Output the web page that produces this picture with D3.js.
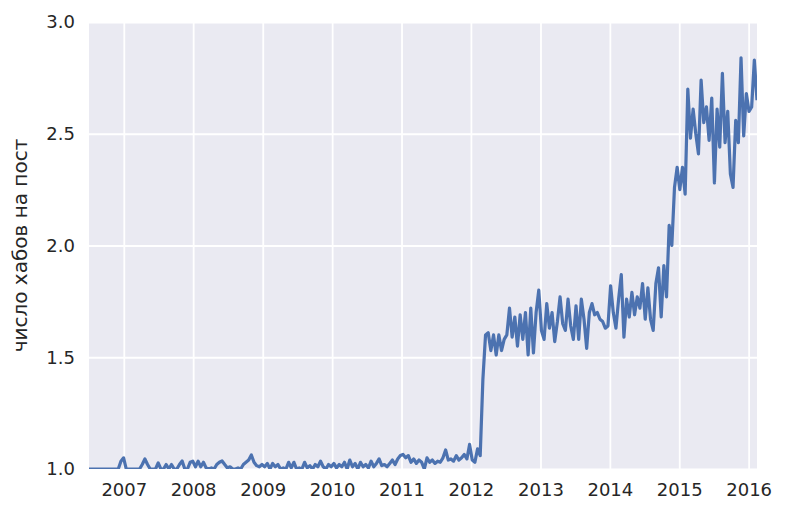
<!DOCTYPE html>
<html>
<head>
<meta charset="utf-8">
<script src="https://cdn.jsdelivr.net/npm/d3@7"></script>
<style>
    body { margin: 0; background: #fff; }
    .tick text { font-family: "DejaVu Sans", sans-serif; font-size: 18px; fill: #262626; }
</style>
</head>
<body>
<div id="chart"></div>
<script>
// values every 2 weeks, starting 2006-07-02
var v2006 = [1, 1, 1, 1, 1, 1, 1, 1, 1, 1, 1, 1, 1.035];
var v2007 = [1.05, 1, 1, 1, 1, 1, 1, 1.02, 1.045, 1.02, 1, 1, 1, 1.027, 1, 1, 1.02, 1, 1.02, 1, 1, 1.02, 1.036, 1, 1, 1.03];
var v2008 = [1.035, 1.01, 1.035, 1.01, 1.03, 1.005, 1, 1.005, 1, 1.02, 1.03, 1.036, 1.02, 1.005, 1.01, 1, 1, 1.005, 1, 1.02, 1.03, 1.04, 1.063, 1.03, 1.015, 1.01];
var v2009 = [1.02, 1.01, 1.025, 1, 1.025, 1.01, 1.02, 1, 1.005, 1, 1.03, 1.005, 1.03, 1, 1.005, 1, 1.03, 1.005, 1.015, 1, 1.02, 1.01, 1.035, 1.01, 1, 1.02];
var v2010 = [1.01, 1.025, 1.005, 1.02, 1.01, 1.03, 1, 1.04, 1.01, 1.025, 1, 1.03, 1.01, 1.02, 1.005, 1.035, 1.01, 1.025, 1.045, 1.015, 1.02, 1.01, 1.025, 1.04, 1.02, 1.045];
var v2011 = [1.06, 1.065, 1.05, 1.06, 1.03, 1.045, 1.025, 1.04, 1.03, 1, 1.05, 1.03, 1.04, 1.025, 1.035, 1.03, 1.05, 1.085, 1.04, 1.045, 1.035, 1.06, 1.04, 1.05, 1.065, 1.045];
var v2012 = [1.11, 1.04, 1.03, 1.09, 1.06, 1.40, 1.60, 1.61, 1.53, 1.60, 1.51, 1.60, 1.53, 1.58, 1.60, 1.72, 1.59, 1.68, 1.55, 1.69, 1.58, 1.70, 1.51, 1.72, 1.52, 1.70];
var v2013 = [1.80, 1.62, 1.58, 1.74, 1.63, 1.70, 1.57, 1.66, 1.77, 1.65, 1.62, 1.76, 1.64, 1.58, 1.73, 1.58, 1.76, 1.67, 1.54, 1.70, 1.74, 1.69, 1.70, 1.67, 1.66, 1.63];
var v2014 = [1.64, 1.82, 1.70, 1.63, 1.76, 1.87, 1.59, 1.76, 1.68, 1.79, 1.69, 1.77, 1.72, 1.83, 1.67, 1.81, 1.67, 1.62, 1.83, 1.90, 1.68, 1.91, 1.77, 2.09, 2.00, 2.26];
var v2015 = [2.35, 2.25, 2.35, 2.23, 2.70, 2.48, 2.61, 2.50, 2.41, 2.74, 2.55, 2.62, 2.47, 2.66, 2.28, 2.61, 2.44, 2.77, 2.46, 2.60, 2.32, 2.26, 2.56, 2.46, 2.84, 2.49];
var v2016 = [2.68, 2.60, 2.62, 2.83, 2.65];

var yTicks = [1.0, 1.5, 2.0, 2.5, 3.0];
var xTicks = ["2007-01-01", "2008-01-01", "2009-01-01", "2010-01-01", "2011-01-01",
    "2012-01-01", "2013-01-01", "2014-01-01", "2015-01-01", "2016-01-01"];
var yLabel = "число хабов на пост";

var parseDate = d3.timeParse("%Y-%m-%d");
var startDate = parseDate("2006-07-02");

var values = [].concat(v2006, v2007, v2008, v2009, v2010, v2011, v2012, v2013, v2014, v2015, v2016);
var data = values.map(function (v, i) {
    return {date: d3.timeDay.offset(startDate, i * 14), value: v};
});

var margin = {top: 22, right: 28, bottom: 48, left: 89},
    width = 785 - margin.left - margin.right,
    height = 517 - margin.top - margin.bottom;

var xScale = d3.scaleTime()
    .domain([data[0].date, data[data.length - 1].date])
    .range([0, width]);
var yScale = d3.scaleLinear().domain([1, 3]).range([height, 0]);

var svg = d3.select("#chart")
    .append("svg")
    .attr("width", 785)
    .attr("height", 517)
    .append("g")
    .attr("transform", "translate(" + margin.left + "," + margin.top + ")");

svg.append("rect")
    .attr("width", width)
    .attr("height", height)
    .attr("fill", "#EAEAF2");

svg.append("clipPath")
    .attr("id", "plotClip")
    .append("rect")
    .attr("width", width)
    .attr("height", height);

var xAxis = d3.axisBottom(xScale)
    .tickValues(xTicks.map(parseDate))
    .tickSize(-height)
    .tickPadding(14)
    .tickFormat(d3.timeFormat("%Y"));

var yAxis = d3.axisLeft(yScale)
    .tickValues(yTicks)
    .tickSize(-width)
    .tickPadding(14)
    .tickFormat(d3.format(".1f"));

svg.append("g")
    .attr("class", "x axis")
    .attr("transform", "translate(0," + height + ")")
    .call(xAxis);

svg.append("g")
    .attr("class", "y axis")
    .call(yAxis);

svg.selectAll("path.domain").remove();
svg.selectAll(".tick line")
    .attr("stroke", "#fff")
    .attr("stroke-width", 1.8);

svg.append("path")
    .datum(data)
    .attr("clip-path", "url(#plotClip)")
    .attr("fill", "none")
    .attr("stroke", "#4C72B0")
    .attr("stroke-width", 3.2)
    .attr("stroke-linejoin", "round")
    .attr("d", d3.line()
        .x(function (d) { return xScale(d.date); })
        .y(function (d) { return yScale(d.value); }));

svg.append("text")
    .attr("transform", "rotate(-90)")
    .attr("x", -height / 2)
    .attr("y", -62)
    .attr("text-anchor", "middle")
    .style("font-family", "DejaVu Sans, sans-serif")
    .style("font-size", "20px")
    .style("fill", "#262626")
    .text(yLabel);
</script>
</body>
</html>
